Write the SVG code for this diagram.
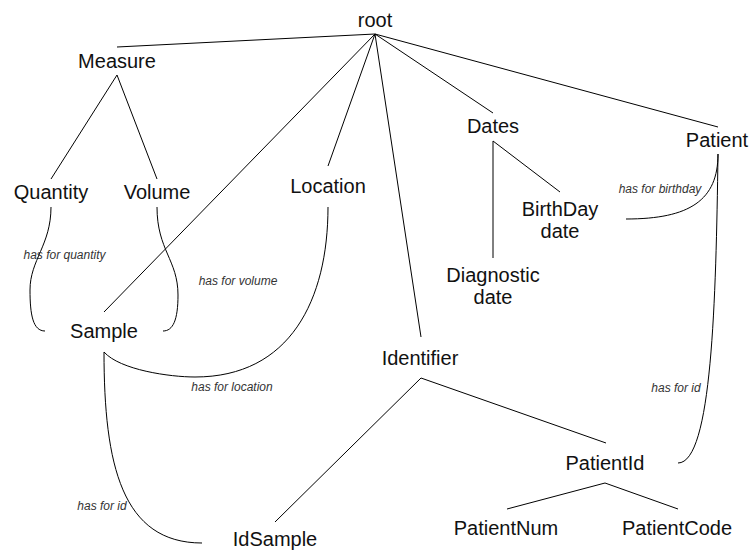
<svg xmlns="http://www.w3.org/2000/svg" width="751" height="551" viewBox="0 0 751 551">
<style>
.n{font-family:"Liberation Sans",Arial,sans-serif;font-size:20px;fill:#111;text-anchor:middle}
.l{font-family:"Liberation Sans",Arial,sans-serif;font-size:12px;font-style:italic;fill:#333;text-anchor:middle}
.e{fill:none;stroke:#000;stroke-width:1}
</style>
<rect width="751" height="551" fill="#fff"/>
<g id="connectors">
<path class="e" d="M375,34 L117,47"/>
<path class="e" d="M375,34 L104,312"/>
<path class="e" d="M375,34 L328,166"/>
<path class="e" d="M375,34 L421,337"/>
<path class="e" d="M375,34 L493,113"/>
<path class="e" d="M375,34 L718,127"/>
<path class="e" d="M117,75 L51,179"/>
<path class="e" d="M117,75 L157,179"/>
<path class="e" d="M493,141 L493,258"/>
<path class="e" d="M493,141 L560,192"/>
<path class="e" d="M421,378 L275,522"/>
<path class="e" d="M421,378 L606,443"/>
<path class="e" d="M605,483 L507,509"/>
<path class="e" d="M605,483 L678,509"/>
<path class="e" d="M51,207 C51,245 30,260 30,290 C30,315 33,331 45,331"/>
<path class="e" d="M157,207 C157,250 178,260 178,295 C178,320 173,331 163,331"/>
<path class="e" d="M104,352 C120,370 170,377 195,377 C290,377 328,300 328,207"/>
<path class="e" d="M104,352 C104,465 122,543 202,543"/>
<path class="e" d="M718,154 C718,200 690,219 626,219"/>
<path class="e" d="M718,154 C716,300 712,463 678,463"/>
<text class="l" x="64.5" y="259">has for quantity</text>
<text class="l" x="238" y="285">has for volume</text>
<text class="l" x="232" y="391">has for location</text>
<text class="l" x="102" y="510">has for id</text>
<text class="l" x="660" y="193">has for birthday</text>
<text class="l" x="676" y="392">has for id</text>
</g>
<g id="root"><text class="n" x="375" y="27">root</text></g>
<g id="measure"><text class="n" x="117" y="68">Measure</text></g>
<g id="quantity"><text class="n" x="51" y="199">Quantity</text></g>
<g id="volume"><text class="n" x="157" y="199">Volume</text></g>
<g id="location"><text class="n" x="328" y="193">Location</text></g>
<g id="sample"><text class="n" x="104" y="338">Sample</text></g>
<g id="idsample"><text class="n" x="275" y="546">IdSample</text></g>
<g id="identifier"><text class="n" x="420" y="365">Identifier</text></g>
<g id="dates"><text class="n" x="493" y="133">Dates</text></g>
<g id="birthday"><text class="n" x="560" y="216">BirthDay</text><text class="n" x="560" y="238">date</text></g>
<g id="diagnostic"><text class="n" x="493" y="282">Diagnostic</text><text class="n" x="493" y="304">date</text></g>
<g id="patient"><text class="n" x="717" y="147">Patient</text></g>
<g id="patientid"><text class="n" x="605" y="470">PatientId</text></g>
<g id="patientnum"><text class="n" x="506" y="535">PatientNum</text></g>
<g id="patientcode"><text class="n" x="677" y="535">PatientCode</text></g>
</svg>
